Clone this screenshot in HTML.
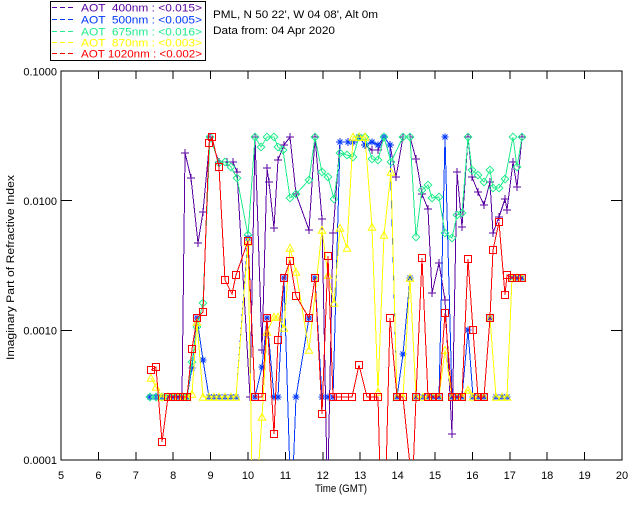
<!DOCTYPE html>
<html><head><meta charset="utf-8"><style>
html,body{margin:0;padding:0;background:#fff;}
svg{display:block;}
text{font-family:"Liberation Sans",sans-serif;}
.pre{white-space:pre;}
</style></head><body>
<svg width="640" height="512" viewBox="0 0 640 512" xmlns="http://www.w3.org/2000/svg">
<defs>
<clipPath id="pc"><rect x="61" y="71" width="561" height="389"/></clipPath>
<marker id="mP" markerUnits="userSpaceOnUse" markerWidth="10" markerHeight="10" refX="5" refY="5" overflow="visible"><path d="M1 5H9M5 1V9" stroke="#5a00a0" stroke-width="1" fill="none" shape-rendering="crispEdges"/></marker>
<marker id="mB" markerUnits="userSpaceOnUse" markerWidth="10" markerHeight="10" refX="5" refY="5" overflow="visible"><path d="M1.5 5H8.5M5 1.5V8.5M2.5 2.5L7.5 7.5M7.5 2.5L2.5 7.5" stroke="#0038ff" stroke-width="1" fill="none"/></marker>
<marker id="mG" markerUnits="userSpaceOnUse" markerWidth="10" markerHeight="10" refX="5" refY="5" overflow="visible"><path d="M5 1.2L8.8 5L5 8.8L1.2 5Z" stroke="#20ec8c" stroke-width="1" fill="none"/></marker>
<marker id="mY" markerUnits="userSpaceOnUse" markerWidth="10" markerHeight="10" refX="5" refY="5" overflow="visible"><path d="M5 1.3L8.7 8.3H1.3Z" stroke="#ffff00" stroke-width="1" fill="none"/></marker>
<marker id="mR" markerUnits="userSpaceOnUse" markerWidth="10" markerHeight="10" refX="5" refY="5" overflow="visible"><path d="M1.5 1.5H8.5V8.5H1.5Z" stroke="#ff0000" stroke-width="1" fill="none" shape-rendering="crispEdges"/></marker>
</defs>

<!-- Legend -->
<rect x="50.5" y="1.5" width="155" height="59" fill="none" stroke="#000" stroke-width="1" shape-rendering="crispEdges"/>
<g stroke-width="1" stroke-dasharray="5,3" shape-rendering="crispEdges">
<line x1="52" y1="7.5" x2="76" y2="7.5" stroke="#5a00a0"/>
<line x1="52" y1="19.5" x2="76" y2="19.5" stroke="#0038ff"/>
<line x1="52" y1="31.5" x2="76" y2="31.5" stroke="#20ec8c"/>
<line x1="52" y1="42.5" x2="76" y2="42.5" stroke="#ffff00"/>
<line x1="52" y1="53.5" x2="76" y2="53.5" stroke="#ff0000"/>
</g>
<g font-size="11">
<text class="pre" x="81" y="11.5" fill="#5a00a0" textLength="121" lengthAdjust="spacingAndGlyphs">AOT  400nm : &lt;0.015&gt;</text>
<text class="pre" x="81" y="23.5" fill="#0038ff" textLength="121" lengthAdjust="spacingAndGlyphs">AOT  500nm : &lt;0.005&gt;</text>
<text class="pre" x="81" y="35.5" fill="#20ec8c" textLength="121" lengthAdjust="spacingAndGlyphs">AOT  675nm : &lt;0.016&gt;</text>
<text class="pre" x="81" y="46.5" fill="#ffff00" textLength="121" lengthAdjust="spacingAndGlyphs">AOT  870nm : &lt;0.003&gt;</text>
<text class="pre" x="81" y="57.5" fill="#ff0000" textLength="121" lengthAdjust="spacingAndGlyphs">AOT 1020nm : &lt;0.002&gt;</text>
</g>

<!-- Header -->
<text x="213" y="18" font-size="11" fill="#000" textLength="165" lengthAdjust="spacingAndGlyphs">PML, N 50 22', W 04 08', Alt 0m</text>
<text x="213" y="34" font-size="11" fill="#000" textLength="122" lengthAdjust="spacingAndGlyphs">Data from: 04 Apr 2020</text>

<!-- Axes box -->
<rect x="61" y="71" width="561" height="389" fill="none" stroke="#000" stroke-width="1" shape-rendering="crispEdges"/>
<g stroke="#000" stroke-width="1" shape-rendering="crispEdges">
<path d="M98.4 460V452M135.8 460V452M173.2 460V452M210.6 460V452M248 460V452M285.4 460V452M322.8 460V452M360.2 460V452M397.6 460V452M435 460V452M472.4 460V452M509.8 460V452M547.2 460V452M584.6 460V452"/>
<path d="M98.4 71V79M135.8 71V79M173.2 71V79M210.6 71V79M248 71V79M285.4 71V79M322.8 71V79M360.2 71V79M397.6 71V79M435 71V79M472.4 71V79M509.8 71V79M547.2 71V79M584.6 71V79"/>
<path d="M61 200.7H72M61 330.3H72M622 200.7H611M622 330.3H611"/>
</g>

<!-- Y labels -->
<g font-size="11" fill="#000" text-anchor="end">
<text x="57" y="75.5">0.1000</text>
<text x="57" y="205">0.0100</text>
<text x="57" y="334.5">0.0010</text>
<text x="57" y="464">0.0001</text>
</g>
<!-- X labels -->
<g font-size="11" fill="#000" text-anchor="middle">
<text x="61" y="479">5</text>
<text x="98.4" y="479">6</text>
<text x="135.8" y="479">7</text>
<text x="173.2" y="479">8</text>
<text x="210.6" y="479">9</text>
<text x="248" y="479">10</text>
<text x="285.4" y="479">11</text>
<text x="322.8" y="479">12</text>
<text x="360.2" y="479">13</text>
<text x="397.6" y="479">14</text>
<text x="435" y="479">15</text>
<text x="472.4" y="479">16</text>
<text x="509.8" y="479">17</text>
<text x="547.2" y="479">18</text>
<text x="584.6" y="479">19</text>
<text x="622" y="479">20</text>
</g>
<text x="315" y="492" font-size="11" fill="#000" textLength="52" lengthAdjust="spacingAndGlyphs">Time (GMT)</text>
<text transform="translate(14,360) rotate(-90)" x="0" y="0" font-size="11" fill="#000" textLength="185" lengthAdjust="spacingAndGlyphs">Imaginary Part of Refractive Index</text>

<!-- Data -->
<g clip-path="url(#pc)" fill="none" stroke-width="1" shape-rendering="crispEdges">
<polyline stroke="#5a00a0" marker-start="url(#mP)" marker-mid="url(#mP)" marker-end="url(#mP)" points="150,397 156,397 162,397 168,397 173,397 178,397 182,397 185,153 191,178 198,243 203,212 210,137 219,162 227,162 233,162 237,172 250,397 255,137 262,350 267,168 269,182 274,228 278,160 284,145 290,137 296,194 309,230 315,137 322,219 327,475 328,475 333,233 340,142 348,142 353,142 359,137 365,145 372,150 378,150 384,137 390,145 396,177 403,137 410,137 416,159 422,194 428,209 432,293 439,263 445,300 452,434 457,172 462,227 468,137 472,177 478,192 484,205 490,182 493,233 499,217 505,199 507,210 513,162 517,187 522,137"/>
<polyline stroke="#0038ff" marker-start="url(#mB)" marker-mid="url(#mB)" marker-end="url(#mB)" points="150,397 156,397 162,397 168,397 173,397 178,397 183,397 187,397 192,368 197,318 203,360 209,397 214,397 219,397 225,397 231,397 236,397 248,238 255,397 262,367 267,318 274,397 278,397 284,278 290,475 293,475 296,397 309,318 315,278 322,397 328,397 333,397 340,142 348,142 353,142 359,137 365,145 372,142 378,145 384,137 390,145 397,397 403,354 410,278 416,397 423,397 428,397 433,397 439,397 445,137 452,397 457,397 462,397 468,330 473,397 478,397 484,397 490,318 496,397 502,397 507,397 512,278 517,278 522,278"/>
<polyline stroke="#20ec8c" marker-start="url(#mG)" marker-mid="url(#mG)" marker-end="url(#mG)" points="150,397 156,397 162,397 168,397 173,397 178,397 183,397 187,397 192,362 197,327 203,303 210,137 219,163 225,162 231,167 237,178 248,235 255,137 261,147 267,137 274,137 278,147 283,150 290,198 296,194 309,180 315,137 322,172 328,177 334,199 340,153 347,155 353,157 359,137 365,137 372,159 378,160 384,137 391,162 403,137 410,137 416,237 422,190 428,185 432,198 439,197 445,233 452,238 457,215 462,213 468,137 472,170 478,175 484,182 490,170 493,188 499,188 505,179 513,137 517,167 522,137"/>
<polyline stroke="#ffff00" marker-start="url(#mY)" marker-mid="url(#mY)" marker-end="url(#mY)" points="151,378 156,387 162,397 168,397 173,397 178,397 183,397 187,397 192,394 197,322 203,397 209,397 214,397 219,397 225,397 231,397 236,397 248,242 252,475 258,475 262,417 267,332 274,317 278,317 284,328 290,248 296,272 309,350 322,230 328,275 334,303 340,228 347,248 353,137 359,137 365,137 372,227 378,392 384,235 391,172 397,397 403,397 410,278 416,397 423,397 428,397 433,397 439,397 445,350 452,397 457,397 462,397 468,390 473,397 478,397 484,397 490,318 496,397 502,397 507,397 512,278 517,278 522,278"/>
<polyline stroke="#ff0000" marker-start="url(#mR)" marker-mid="url(#mR)" marker-end="url(#mR)" points="151,370 156,367 162,442 168,397 173,397 178,397 183,397 187,397 192,349 197,318 203,312 209,143 212,137 219,167 225,280 232,294 236,275 248,241 255,397 262,397 267,318 274,434 278,340 284,278 290,261 296,296 309,318 315,278 322,414 328,256 333,397 338,397 345,397 352,397 359,365 367,397 373,397 378,397 380,475 386,475 390,318 397,397 403,397 411,475 413,475 416,397 422,258 428,397 433,397 439,397 445,313 452,397 457,397 462,397 468,259 473,330 478,397 484,397 490,318 493,250 499,222 505,295 507,275 512,278 517,278 522,278"/>
</g>
</svg>
</body></html>
